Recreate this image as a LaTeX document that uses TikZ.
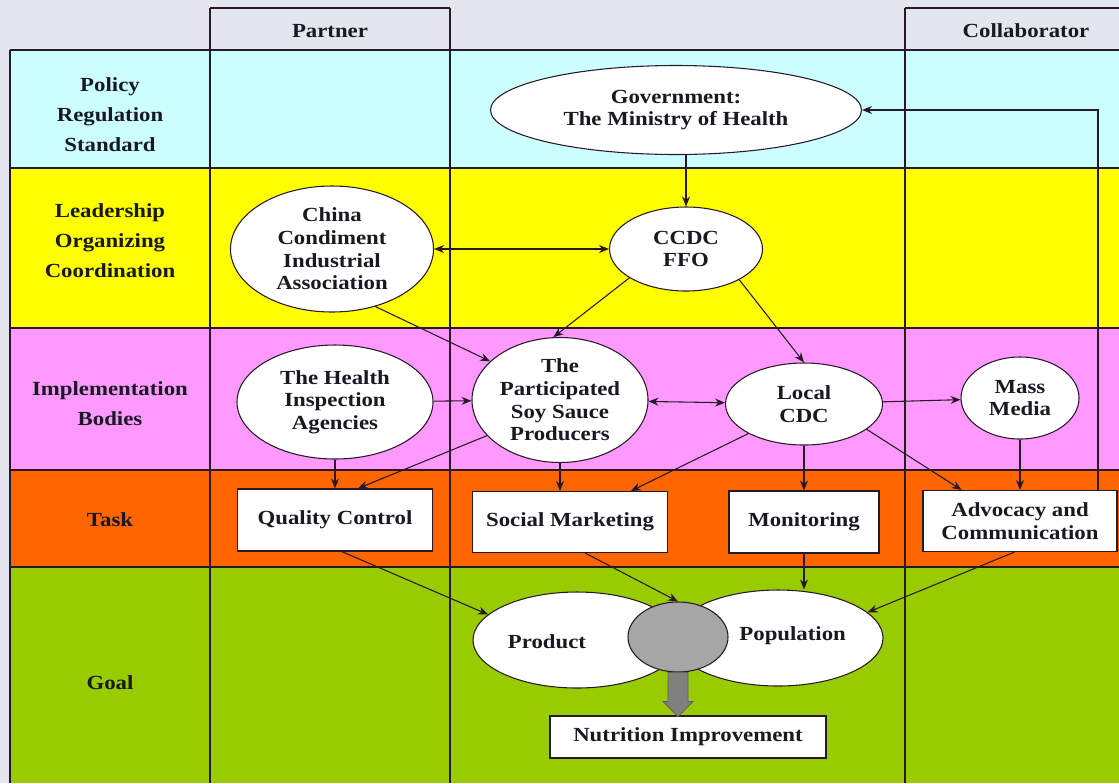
\documentclass[tikz,border=0pt]{standalone}
\usepackage{fontspec}
\setmainfont{Liberation Serif}[FakeStretch=1.14]
\usetikzlibrary{shapes.geometric,arrows.meta}

\definecolor{bggray}{RGB}{227,230,237}
\definecolor{rowcyan}{RGB}{204,255,255}
\definecolor{rowyellow}{RGB}{255,255,0}
\definecolor{rowpink}{RGB}{255,153,255}
\definecolor{roworange}{RGB}{255,102,0}
\definecolor{rowgreen}{RGB}{153,204,0}
\definecolor{linecol}{RGB}{40,25,40}
\definecolor{txtcol}{RGB}{25,25,35}
\definecolor{coregray}{RGB}{166,166,166}

\tikzset{
  dims/.style 2 args={minimum width=#1*0.75pt,minimum height=#2*0.75pt},
  oval/.style={ellipse,draw=linecol,fill=white,line width=0.8pt,inner sep=0pt,align=center,text=txtcol,font=\bfseries\fontsize{15}{17}\selectfont},
  taskbox/.style={rectangle,draw=linecol,fill=white,line width=0.8pt,inner sep=0pt,align=center,text=txtcol,font=\bfseries\fontsize{15}{17}\selectfont},
  goaltext/.style={text=txtcol,font=\bfseries\fontsize{15}{17}\selectfont},
  rowlabel/.style={align=center,text=txtcol,font=\bfseries\fontsize{15}{22.5}\selectfont},
  arr/.style={draw=linecol,line width=0.8pt,-{Stealth[length=7.5pt,width=6pt]}},
  darr/.style={draw=linecol,line width=0.8pt,{Stealth[length=7.5pt,width=6pt]}-{Stealth[length=7.5pt,width=6pt]}},
  grid/.style={draw=linecol,line width=1pt}
}

\begin{document}
\begin{tikzpicture}[x=0.75pt,y=-0.75pt]
\useasboundingbox (0,0) rectangle (1119,783);
\fill[bggray] (0,0) rectangle (1119,783);
% rows
\fill[rowcyan] (10,50) rectangle (1119,168);
\fill[rowyellow] (10,168) rectangle (1119,328);
\fill[rowpink] (10,328) rectangle (1119,470);
\fill[roworange] (10,470) rectangle (1119,567);
\fill[rowgreen] (10,567) rectangle (1119,783);
% grid
\foreach \y in {50,168,328,470,567} \draw[grid] (10,\y) -- (1119,\y);
\draw[grid] (10,50) -- (10,783);
\foreach \x in {210,450,905} \draw[grid] (\x,8) -- (\x,783);
\draw[grid] (210,8) -- (450,8);
\draw[grid] (905,8) -- (1119,8);

% header and row labels
\node[rowlabel] (partner) at (330,31) {Partner};
\node[rowlabel] (collab) at (1026,31) {Collaborator};
\node[rowlabel] (policy) at (110,115) {Policy\\Regulation\\Standard};
\node[rowlabel] (lead) at (110,241) {Leadership\\Organizing\\Coordination};
\node[rowlabel] (impl) at (110,404) {Implementation\\Bodies};
\node[rowlabel] (task) at (110,520) {Task};
\node[rowlabel] (goal) at (110,683) {Goal};

% bodies
\node[oval,dims={371}{89}] (gov) at (676,110) {Government:\\The Ministry of Health};
\node[oval,dims={153}{84}] (ccdc) at (686,249) {CCDC\\FFO};
\node[oval,dims={203}{126}] (cia) at (332,249) {China\\Condiment\\Industrial\\Association};
\node[oval,dims={196}{114}] (hia) at (335,402) {The Health\\Inspection\\Agencies};
\node[oval,dims={176}{125}] (soy) at (560,400) {The\\Participated\\Soy Sauce\\Producers};
\node[oval,dims={157}{82}] (lcdc) at (804,404) {Local\\CDC};
\node[oval,dims={118}{82}] (media) at (1020,398) {Mass\\Media};

% tasks
\node[taskbox,dims={195}{62}] (qc) at (335,520) {Quality Control};
\node[taskbox,dims={195}{61}] (sm) at (570,522) {Social Marketing};
\node[taskbox,dims={150}{62}] (mon) at (804,522) {Monitoring};
\node[taskbox,dims={194}{61}] (adv) at (1020,521) {Advocacy and\\Communication};

% goal
\node[oval,dims={208}{96},label={[goaltext,xshift=-22.5pt,yshift=-1.5pt]center:Product}] (prod) at (577,640) {};
\node[oval,dims={210}{96},label={[goaltext,xshift=11pt,yshift=1.5pt]center:Population}] (pop) at (778,638) {};
\node[ellipse,draw=linecol,fill=coregray,line width=0.8pt,dims={100}{70}] (core) at (678,637) {};
\node[taskbox,dims={276}{42}] (nut) at (688,737) {Nutrition Improvement};
\draw[draw=linecol!70,fill=gray,line width=0.6pt] (core.south) ++(-10,0) -- ++(0,29) -- ++(-5,0) -- ++(15,15) -- ++(15,-15) -- ++(-5,0) -- ++(0,-29) -- cycle;

% connectors
\coordinate (fb) at (1098,491);
\draw[arr] (fb) |- (gov.east);
\draw[arr] (ccdc.north |- gov.south) -- (ccdc.north);
\draw[darr] (cia) -- (ccdc);
\draw[arr] (cia.-53) -- (soy.151);
\draw[arr] (ccdc.207) -- (soy.96);
\draw[arr] (ccdc.-30) -- (lcdc.north);
\draw[arr] (hia) -- (soy);
\draw[darr] (soy) -- (lcdc);
\draw[arr] (lcdc) -- (media);
\draw[arr] (hia) -- (qc);
\draw[arr] (soy.206) -- (qc.54);
\draw[arr] (soy.south) -- (soy.south |- sm.north);
\draw[arr] (lcdc.208) -- (sm.27);
\draw[arr] (lcdc) -- (mon);
\draw[arr] (lcdc.-22) -- (adv.152);
\draw[arr] (media) -- (adv);
\draw[arr] (qc.-78) -- (prod.164);
\draw[arr] (sm.-64) -- (core.north);
\draw[arr] (mon.south) -- (mon.south |- pop.north);
\draw[arr] (adv.-100) -- (pop.16);
\end{tikzpicture}
\end{document}
